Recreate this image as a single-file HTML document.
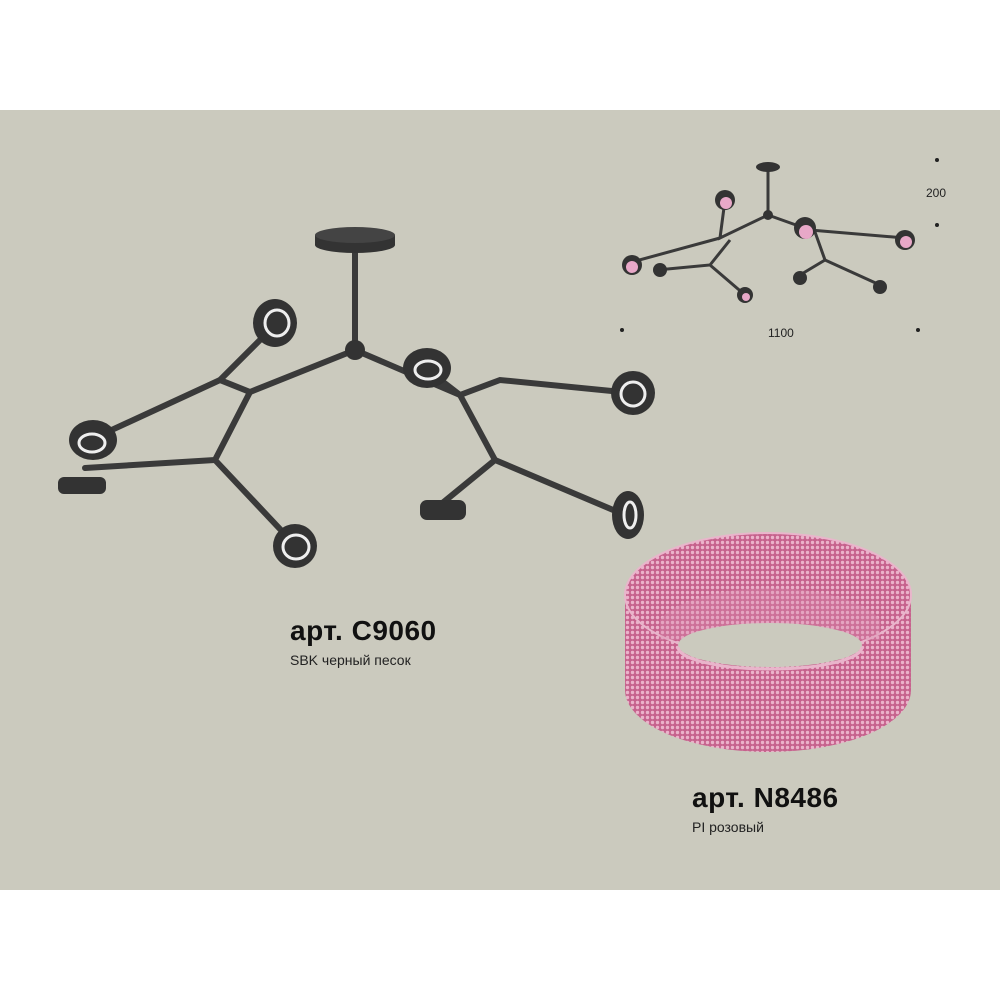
<!DOCTYPE html>
<html><head><meta charset="utf-8"><style>
body{margin:0;width:1000px;height:1000px;background:#fff;overflow:hidden;font-family:"Liberation Sans",sans-serif}
</style></head><body>
<svg width="1000" height="1000" xmlns="http://www.w3.org/2000/svg">
<defs>
<pattern id="d" width="5" height="5" patternUnits="userSpaceOnUse">
<rect width="5" height="5" fill="#c6628d"/><circle cx="2.5" cy="2.5" r="1.7" fill="#ebb3cb"/>
</pattern>
</defs>
<rect x="0" y="110" width="1000" height="780" fill="#cbcabe"/>
<g stroke="#3a3a3a" stroke-width="6" stroke-linecap="round" fill="none">
<line x1="355" y1="245" x2="355" y2="350"/>
<polyline points="355,350 250,392 220,380 275,325"/>
<polyline points="220,380 90,440"/>
<polyline points="250,392 215,460 85,468"/>
<polyline points="215,460 295,545"/>
<polyline points="355,350 460,395 425,368"/>
<polyline points="460,395 500,380 632,393"/>
<polyline points="460,395 495,460 440,505"/>
<polyline points="495,460 625,515"/>
</g>
<rect x="315" y="235" width="80" height="10" fill="#333"/>
<ellipse cx="355" cy="245" rx="40" ry="8" fill="#333"/>
<ellipse cx="355" cy="235" rx="40" ry="8" fill="#444"/>
<circle cx="355" cy="350" r="10" fill="#333"/>
<g fill="#333">
<ellipse cx="275" cy="323" rx="22" ry="24"/><ellipse cx="93" cy="440" rx="24" ry="20"/>
<rect x="58" y="477" width="48" height="17" rx="6"/>
<ellipse cx="295" cy="546" rx="22" ry="22"/>
<ellipse cx="427" cy="368" rx="24" ry="20"/><ellipse cx="633" cy="393" rx="22" ry="22"/>
<rect x="420" y="500" width="46" height="20" rx="7"/>
<ellipse cx="628" cy="515" rx="16" ry="24"/>
</g>
<g fill="none" stroke="#eee" stroke-width="3">
<ellipse cx="277" cy="323" rx="12" ry="13"/><ellipse cx="92" cy="443" rx="13" ry="9"/>
<ellipse cx="296" cy="547" rx="13" ry="12"/><ellipse cx="428" cy="370" rx="13" ry="9"/>
<ellipse cx="633" cy="394" rx="12" ry="12"/><ellipse cx="630" cy="515" rx="6" ry="13"/>
</g>
<g stroke="#3a3a3a" stroke-width="3" fill="none">
<line x1="768" y1="168" x2="768" y2="215"/>
<polyline points="768,215 720,238 725,200"/><polyline points="720,238 632,262"/>
<polyline points="730,240 710,265 657,270"/><polyline points="710,265 745,295"/>
<polyline points="768,215 810,230 805,220"/><polyline points="810,230 905,238"/>
<polyline points="815,232 825,260 800,275"/><polyline points="825,260 880,285"/>
</g>
<ellipse cx="768" cy="167" rx="12" ry="5" fill="#333"/>
<g fill="#333"><circle cx="725" cy="200" r="10"/><circle cx="632" cy="265" r="10"/><circle cx="745" cy="295" r="8"/><circle cx="805" cy="228" r="11"/><circle cx="905" cy="240" r="10"/><circle cx="800" cy="278" r="7"/><circle cx="880" cy="287" r="7"/><circle cx="660" cy="270" r="7"/><circle cx="768" cy="215" r="5"/></g>
<g fill="#e8a8c8"><circle cx="726" cy="203" r="6"/><circle cx="632" cy="267" r="6"/><circle cx="806" cy="232" r="7"/><circle cx="906" cy="242" r="6"/><circle cx="746" cy="297" r="4"/></g>
<g fill="#222"><circle cx="937" cy="160" r="2"/><circle cx="937" cy="225" r="2"/><circle cx="622" cy="330" r="2"/><circle cx="918" cy="330" r="2"/></g>
<text x="926" y="197" font-size="12" fill="#222">200</text>
<text x="768" y="337" font-size="12" fill="#222">1100</text>
<path d="M625,595 L625,690 A143,62 0 0 0 911,690 L911,595 A143,62 0 0 0 625,595 Z" fill="url(#d)"/>
<ellipse cx="768" cy="595" rx="143" ry="62" fill="none" stroke="#e9b5cb" stroke-width="2"/>
<path d="M660,620 A115,45 0 0 1 880,620 L880,640 L660,640 Z" fill="#d98bae" opacity=".35"/>
<ellipse cx="770" cy="645" rx="92" ry="22" fill="#cbcabe"/>
<path d="M678,647 A92,22 0 0 0 862,647" fill="none" stroke="#e9b5cb" stroke-width="3"/>
<text x="290" y="640" font-size="28" font-weight="bold" fill="#111" letter-spacing="0.5">арт. C9060</text>
<text x="290" y="665" font-size="14" fill="#222">SBK черный песок</text>
<text x="692" y="807" font-size="28" font-weight="bold" fill="#111" letter-spacing="0.5">арт. N8486</text>
<text x="692" y="832" font-size="14" fill="#222">PI розовый</text>
</svg>
</body></html>
